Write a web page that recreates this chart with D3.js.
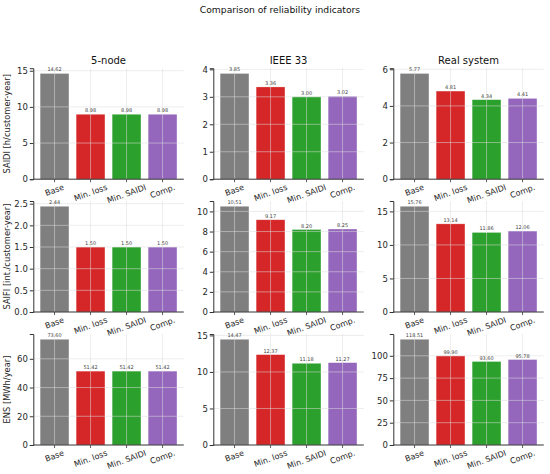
<!DOCTYPE html>
<html>
<head>
<meta charset="utf-8">
<script src="https://cdn.jsdelivr.net/npm/d3@7"></script>
<style>
  body { margin: 0; background: #fff; }
  text { font-family: "DejaVu Sans", sans-serif; }
</style>
</head>
<body>
<script>
const categories = ['Base', 'Min. loss', 'Min. SAIDI', 'Comp.']
const systems = ['5-node', 'IEEE 33', 'Real system']
const indicators = ['SAIDI [h/customer-year]', 'SAIFI [int./customer-year]', 'ENS [MWh/year]']
const colors = ['#7f7f7f', '#d62728', '#2ca02c', '#9467bd']

// values per system, one array per indicator
const saidi = [[14.62, 8.98, 8.98, 8.98], [3.85, 3.36, 3.00, 3.02], [5.77, 4.81, 4.34, 4.41]]
const saifi = [[2.44, 1.50, 1.50, 1.50], [10.51, 9.17, 8.20, 8.25], [15.76, 13.14, 11.86, 12.06]]
const ens = [[73.60, 51.42, 51.42, 51.42], [14.47, 12.37, 11.18, 11.27], [118.51, 99.90, 93.60, 95.78]]

// y tick values per panel
const saidiTicks = [[0, 5, 10, 15], [0, 1, 2, 3, 4], [0, 2, 4, 6]]
const saifiTicks = [[0, 0.5, 1, 1.5, 2, 2.5], [0, 2, 4, 6, 8, 10], [0, 5, 10, 15]]
const ensTicks = [[0, 20, 40, 60], [0, 5, 10, 15], [0, 25, 50, 75, 100]]

const rows = [
  { values: saidi, ticks: saidiTicks },
  { values: saifi, ticks: saifiTicks },
  { values: ens, ticks: ensTicks }
]

const width = 550
const height = 474
const colX = [33.3, 213.3, 393.3]
const rowTop = [68.2, 201, 334]
const plotW = 150.5
const plotH = 111
const tickFont = 8.5
const labelFont = 8
const angle = 20

const svg = d3.select('body')
  .append('svg')
  .attr('width', width)
  .attr('height', height)

svg.append('text')
  .attr('x', 280)
  .attr('y', 12.5)
  .attr('text-anchor', 'middle')
  .attr('font-size', 9.2)
  .attr('fill', '#111')
  .text('Comparison of reliability indicators')

const sin = Math.sin(angle * Math.PI / 180)
const cos = Math.cos(angle * Math.PI / 180)

rows.forEach((row, r) => {
  systems.forEach((sys, c) => {
    const vals = row.values[c]
    const g = svg.append('g')
      .attr('transform', `translate(${colX[c]}, ${rowTop[r]})`)

    const x = d3.scaleLinear()
      .domain([-0.59, 3.59])
      .range([0, plotW])

    const y = d3.scaleLinear()
      .domain([0, d3.max(vals) * 1.05])
      .range([plotH, 0])

    // bars
    g.selectAll('rect')
      .data(vals)
      .enter()
      .append('rect')
      .attr('x', (d, i) => x(i - 0.4))
      .attr('y', d => y(d))
      .attr('width', x(0.8) - x(0))
      .attr('height', d => plotH - y(d))
      .attr('fill', (d, i) => colors[i])
      .attr('stroke', '#fff')
      .attr('stroke-opacity', 0.45)
      .attr('stroke-width', 0.6)

    // grid on top of bars
    const grid = g.append('g')
      .attr('stroke', '#dcdcdc')
      .attr('stroke-opacity', 0.65)
      .attr('stroke-width', 0.8)
    grid.selectAll('line.h')
      .data(row.ticks[c].filter(t => t > 0))
      .enter()
      .append('line')
      .attr('x1', 0)
      .attr('x2', plotW)
      .attr('y1', d => y(d))
      .attr('y2', d => y(d))
    grid.selectAll('line.v')
      .data(d3.range(categories.length))
      .enter()
      .append('line')
      .attr('x1', d => x(d))
      .attr('x2', d => x(d))
      .attr('y1', 0)
      .attr('y2', plotH)

    // value labels
    g.selectAll('text.val')
      .data(vals)
      .enter()
      .append('text')
      .attr('x', (d, i) => x(i))
      .attr('y', d => y(d) - 2)
      .attr('text-anchor', 'middle')
      .attr('font-size', 5)
      .attr('fill', '#444')
      .text(d => d.toFixed(2))

    // y axis
    const fmt = (r === 1 && c === 0) ? d3.format('.1f') : d3.format('d')
    const yAxis = g.append('g')
      .call(d3.axisLeft(y).tickValues(row.ticks[c]).tickFormat(fmt).tickSize(3.5).tickPadding(2))
    yAxis.select('.domain').attr('stroke', '#333').attr('stroke-width', 1)
    yAxis.selectAll('.tick line').attr('stroke', '#333')
    yAxis.selectAll('.tick text')
      .attr('font-size', tickFont)
      .attr('fill', '#262626')
      .attr('font-family', '"DejaVu Sans", sans-serif')

    // x axis
    const xAxis = g.append('g')
      .attr('transform', `translate(0, ${plotH})`)
    xAxis.append('line')
      .attr('x1', 0)
      .attr('x2', plotW)
      .attr('stroke', '#333')
      .attr('stroke-width', 1)
    xAxis.selectAll('line.tk')
      .data(d3.range(categories.length))
      .enter()
      .append('line')
      .attr('x1', d => x(d))
      .attr('x2', d => x(d))
      .attr('y2', 3)
      .attr('stroke', '#333')
      .attr('stroke-width', 0.8)
    xAxis.selectAll('text')
      .data(categories)
      .enter()
      .append('text')
      .attr('text-anchor', 'middle')
      .attr('dy', '0.35em')
      .attr('font-size', labelFont)
      .attr('fill', '#262626')
      .text(d => d)
      .each(function (d, i) {
        const w = this.getComputedTextLength()
        const cy = 4.5 + (w * sin + labelFont * 0.8 * cos) / 2
        d3.select(this)
          .attr('transform', `translate(${x(i)}, ${cy}) rotate(${-angle})`)
      })

    if (r === 0) {
      g.append('text')
        .attr('x', plotW / 2)
        .attr('y', -4)
        .attr('text-anchor', 'middle')
        .attr('font-size', 10)
        .attr('fill', '#111')
        .text(sys)
    }

    if (c === 0) {
      g.append('text')
        .attr('transform', `translate(${-23}, ${plotH / 2}) rotate(-90)`)
        .attr('text-anchor', 'middle')
        .attr('font-size', 8.3)
        .attr('fill', '#262626')
        .text(indicators[r])
    }
  })
})
</script>
</body>
</html>
